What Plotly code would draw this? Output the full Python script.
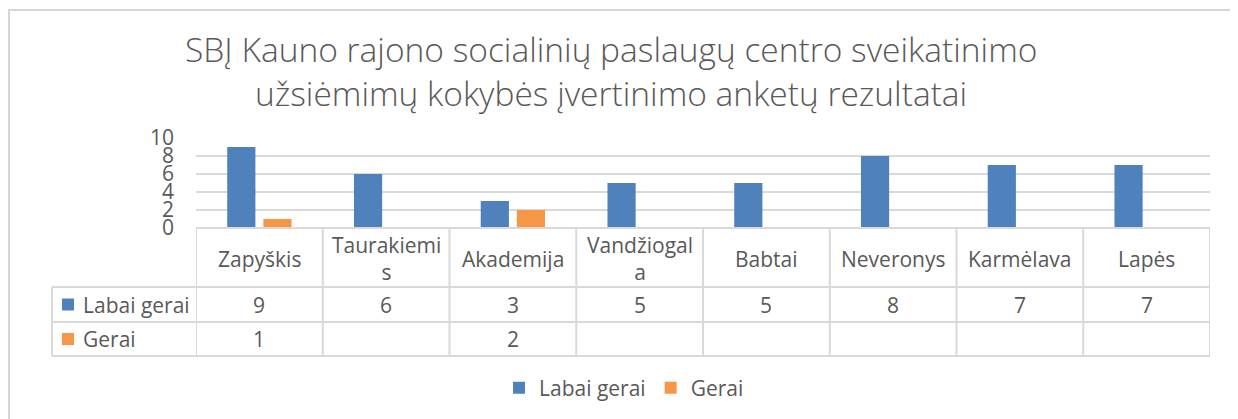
import plotly.graph_objects as go

categories = ["Zapyškis", "Taurakiemis", "Akademija", "Vandžiogala",
              "Babtai", "Neveronys", "Karmėlava", "Lapės"]
series_names = ["Labai gerai", "Gerai"]
labai_gerai = [9, 6, 3, 5, 5, 8, 7, 7]
gerai = [1, None, 2, None, None, None, None, None]
y_ticks = [0, 2, 4, 6, 8, 10]
title_lines = ["SBĮ Kauno rajono socialinių paslaugų centro sveikatinimo",
               "užsiėmimų kokybės įvertinimo anketų rezultatai"]

colors = ["#4F81BD", "#F79646"]
OFF = 8                      # page body margin of the browser
W, H = 1238 - OFF, 419 - OFF
FONT = "Open Sans"
TXT = "#595959"
GRID = "#D9D9D9"


def fx(px):
    return (px - OFF) / W


def fy(py):
    return 1 - (py - OFF) / H


def wrap(s, n=10):
    return "<br>".join(s[i:i + n] for i in range(0, len(s), n))


fig = go.Figure()
for name, vals, col in zip(series_names, [labai_gerai, gerai], colors):
    fig.add_trace(go.Bar(x=list(range(len(categories))), y=vals, name=name,
                         marker=dict(color=col, line=dict(width=0))))

# table geometry (pixels of the reference)
x_left, x_plot0, x_plot1 = 52, 196, 1210
y_axis, y_hdr, y_r1, y_r2 = 228, 287, 322, 356
shapes = []
line = dict(color=GRID, width=2)
# outer chart frame
shapes.append(dict(type="rect", xref="paper", yref="paper", x0=fx(9), x1=fx(1235),
                   y0=fy(440), y1=fy(10), line=dict(color="#D6D6D6", width=2)))
# horizontal table lines
shapes.append(dict(type="line", xref="paper", yref="paper", x0=fx(x_plot0), x1=fx(x_plot1),
                   y0=fy(y_axis), y1=fy(y_axis), line=line))
for yy in [y_hdr, y_r1, y_r2]:
    shapes.append(dict(type="line", xref="paper", yref="paper", x0=fx(x_left), x1=fx(x_plot1),
                       y0=fy(yy), y1=fy(yy), line=line))
# vertical table lines
shapes.append(dict(type="line", xref="paper", yref="paper", x0=fx(x_left), x1=fx(x_left),
                   y0=fy(y_hdr), y1=fy(y_r2), line=line))
for i in range(len(categories) + 1):
    shapes.append(dict(type="line", xref="x", yref="paper", x0=i - 0.5, x1=i - 0.5,
                       y0=fy(y_axis), y1=fy(y_r2), line=line))
# legend keys in row header
for yy, col in zip([(y_hdr + y_r1) / 2, (y_r1 + y_r2) / 2], colors):
    shapes.append(dict(type="rect", xref="paper", yref="paper", x0=fx(62), x1=fx(74),
                       y0=fy(yy + 6), y1=fy(yy - 6), fillcolor=col, line=dict(width=0)))

ann = []
tf = dict(family=FONT, size=21, color=TXT)
for i, c in enumerate(categories):
    ann.append(dict(x=i, xref="x", y=fy((y_axis + y_hdr) / 2 + 1), yref="paper", text=wrap(c),
                    showarrow=False, font=tf, xanchor="center", yanchor="middle"))
for row_y, vals in zip([(y_hdr + y_r1) / 2, (y_r1 + y_r2) / 2], [labai_gerai, gerai]):
    for i, v in enumerate(vals):
        if v is not None:
            ann.append(dict(x=i, xref="x", y=fy(row_y), yref="paper", text=str(v),
                            showarrow=False, font=tf, xanchor="center", yanchor="middle"))
for row_y, name in zip([(y_hdr + y_r1) / 2, (y_r1 + y_r2) / 2], series_names):
    ann.append(dict(x=fx(81), xref="paper", y=fy(row_y), yref="paper", text=name,
                    showarrow=False, font=tf, xanchor="left", yanchor="middle"))
for k, t in enumerate(title_lines):
    ann.append(dict(x=fx(611), xref="paper", y=fy(49 + 44 * k), yref="paper", text=t,
                    showarrow=False, font=dict(family=FONT, size=33.5, color=TXT, weight=300),
                    xanchor="center", yanchor="middle"))

fig.update_layout(
    width=W, height=H, margin=dict(l=0, r=0, t=0, b=0, pad=0, autoexpand=False),
    paper_bgcolor="white", plot_bgcolor="white",
    barmode="group", bargap=0.43, bargroupgap=0.22,
    shapes=shapes, annotations=ann,
    xaxis=dict(domain=[fx(x_plot0), fx(x_plot1)], range=[-0.5, len(categories) - 0.5],
               showticklabels=False, showgrid=False, zeroline=False, showline=False,
               automargin=False, fixedrange=True),
    yaxis=dict(domain=[fy(y_axis), fy(138)], range=[0, 10], tickvals=y_ticks,
               showgrid=True, gridcolor=GRID, gridwidth=2, zeroline=False, showline=False,
               automargin=False, fixedrange=True,
               tickfont=dict(family=FONT, size=21, color=TXT), ticklabelstandoff=21),
    legend=dict(orientation="h", x=fx(624), xanchor="center", y=fy(388), yanchor="middle",
                font=dict(family=FONT, size=21, color=TXT), traceorder="normal"),
)
fig.write_html("out.html")
